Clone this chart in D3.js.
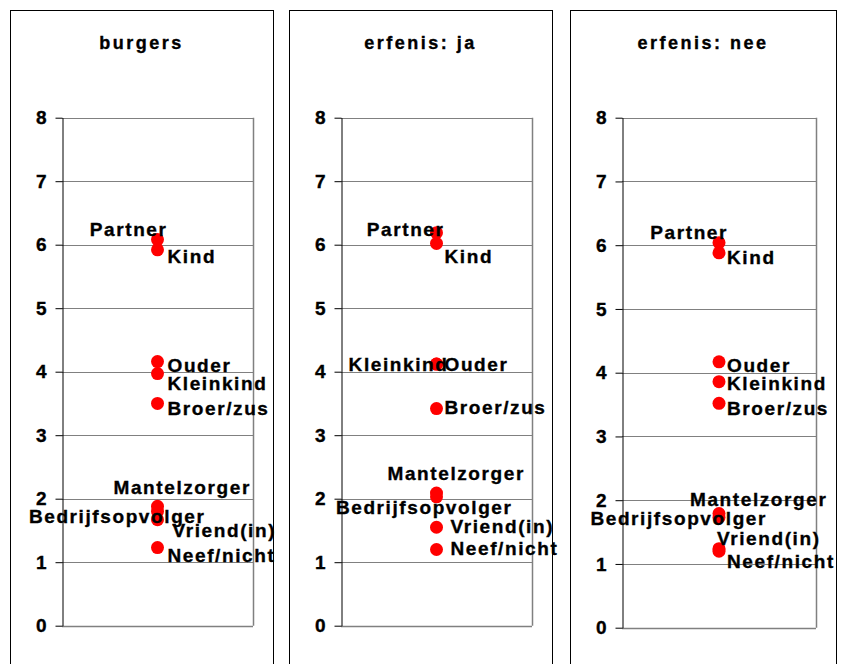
<!DOCTYPE html>
<html>
<head>
<meta charset="utf-8">
<script src="https://cdn.jsdelivr.net/npm/d3@7"></script>
<style>
    body { margin: 0; background: #fff; }
    svg { display: block; font-family: "Liberation Sans", Arial, sans-serif; }
    text { stroke: #000; stroke-width: 0.35px; }
</style>
</head>
<body>
<script>
"use strict";
(function(){
    // categories (relation types)
    const categories = ["Partner", "Kind", "Ouder", "Kleinkind", "Broer/zus",
        "Mantelzorger", "Bedrijfsopvolger", "Vriend(in)", "Neef/nicht"]

    // panel titles
    const titles = ["burgers", "erfenis: ja", "erfenis: nee"]

    // values per panel, same order as categories
    const burgers    = [6.08, 5.92, 4.16, 3.97, 3.50, 1.88, 1.80, 1.67, 1.23]
    const erfenisJa  = [6.19, 6.02, 4.12, 4.12, 3.42, 2.09, 2.03, 1.55, 1.20]
    const erfenisNee = [6.04, 5.88, 4.17, 3.86, 3.52, 1.79, 1.73, 1.24, 1.20]

    // y tick labels
    const yTicks = [0, 1, 2, 3, 4, 5, 6, 7, 8]

    const series = [burgers, erfenisJa, erfenisNee]

    // dimensions for svg and the three boxes
    const measurements = {
        width: 841,
        height: 664,
        boxTop: 10,
        plotTop: 117.7,
        padLeft: 52,
        padRight: 20,
        dotRadius: 6.5
    }
    const boxes = [
        { left: 10, right: 273, plotBottom: 625.7 },
        { left: 289, right: 552, plotBottom: 625.7 },
        { left: 570, right: 836, plotBottom: 627.7 }
    ]

    // manual label placement (anchor, dx, dy from the dot), like the dragged excel labels
    const labelLayout = [
        [["end", 10, -4], ["start", 10, 13], ["start", 10, 10], ["start", 10, 16], ["start", 10, 12],
         ["start", -44, -12], ["end", 48, 12], ["start", 15, 17], ["start", 10, 14]],
        [["end", 8, 3], ["start", 8, 20], ["start", 8, 7], ["end", 12, 7], ["start", 8, 5],
         ["start", -49, -13], ["end", 76, 17], ["start", 14, 6], ["start", 14, 5]],
        [["end", 9, -4], ["start", 8, 11], ["start", 8, 10], ["start", 8, 8], ["start", 8, 12],
         ["start", -29, -8], ["end", 48, 8], ["start", -2, -4], ["start", 8, 17]]
    ]

    const svgContainer = d3.select("body").append("svg")
        .attr("width", measurements.width)
        .attr("height", measurements.height)

    boxes.forEach((box, i) => drawPanel(box, i))

    function drawPanel(box, i) {
        const g = svgContainer.append("g")
        const plotLeft = box.left + measurements.padLeft
        const plotRight = box.right - measurements.padRight

        // outer frame, runs off the bottom of the picture
        g.append("rect")
            .attr("x", box.left + 0.5)
            .attr("y", measurements.boxTop + 0.5)
            .attr("width", box.right - box.left)
            .attr("height", 700)
            .attr("fill", "none")
            .attr("stroke", "#000")

        // title
        g.append("text")
            .attr("x", (box.left + box.right) / 2)
            .attr("y", 49)
            .attr("text-anchor", "middle")
            .style("font-size", "18px")
            .style("font-weight", "bold")
            .style("letter-spacing", "2.5px")
            .text(titles[i])

        let scaleX = d3.scalePoint()
            .domain(["all"])
            .range([plotLeft, plotRight])
            .padding(0.5)

        let scaleY = d3.scaleLinear()
            .domain([0, 8])
            .range([box.plotBottom, measurements.plotTop])

        // gridlines
        g.append("g")
            .selectAll("line")
            .data(yTicks.slice(1))
            .enter()
            .append("line")
            .attr("x1", plotLeft)
            .attr("x2", plotRight)
            .attr("y1", d => Math.round(scaleY(d)) + 0.5)
            .attr("y2", d => Math.round(scaleY(d)) + 0.5)
            .attr("stroke", "#808080")

        // right and bottom edge of plot area
        g.append("line")
            .attr("x1", Math.round(plotRight) + 0.5)
            .attr("x2", Math.round(plotRight) + 0.5)
            .attr("y1", scaleY(8))
            .attr("y2", scaleY(0))
            .attr("stroke", "#808080")
            .attr("stroke-width", 1.5)
        g.append("line")
            .attr("x1", plotLeft)
            .attr("x2", plotRight)
            .attr("y1", Math.round(scaleY(0)) + 0.5)
            .attr("y2", Math.round(scaleY(0)) + 0.5)
            .attr("stroke", "#808080")
            .attr("stroke-width", 1.5)

        // y axis
        let yAxis = d3.axisLeft(scaleY)
            .tickValues(yTicks)
            .tickSizeInner(7)
            .tickSizeOuter(0)
            .tickPadding(9)
        const axisG = g.append("g")
            .attr("transform", "translate(" + (Math.round(plotLeft) + 0.5) + ",0)")
            .call(yAxis)
        axisG.select(".domain").attr("stroke", "#000")
        axisG.selectAll(".tick line").attr("stroke", "#000")
        axisG.selectAll(".tick text")
            .attr("fill", "#000")
            .style("font-size", "19px")
            .style("font-weight", "bold")
            .style("font-family", "'Liberation Sans', Arial, sans-serif")

        const points = categories.map((c, j) => ({ name: c, value: series[i][j], layout: labelLayout[i][j] }))

        // dots
        g.append("g")
            .selectAll("circle")
            .data(points)
            .enter()
            .append("circle")
            .attr("cx", scaleX("all"))
            .attr("cy", d => scaleY(d.value))
            .attr("r", measurements.dotRadius)
            .attr("fill", "#ff0000")

        // labels
        g.append("g")
            .selectAll("text")
            .data(points)
            .enter()
            .append("text")
            .attr("x", d => scaleX("all") + d.layout[1])
            .attr("y", d => scaleY(d.value) + d.layout[2])
            .attr("text-anchor", d => d.layout[0])
            .style("font-size", "19px")
            .style("font-weight", "bold")
            .style("letter-spacing", "1.6px")
            .text(d => d.name)
    }
})()
</script>
</body>
</html>
